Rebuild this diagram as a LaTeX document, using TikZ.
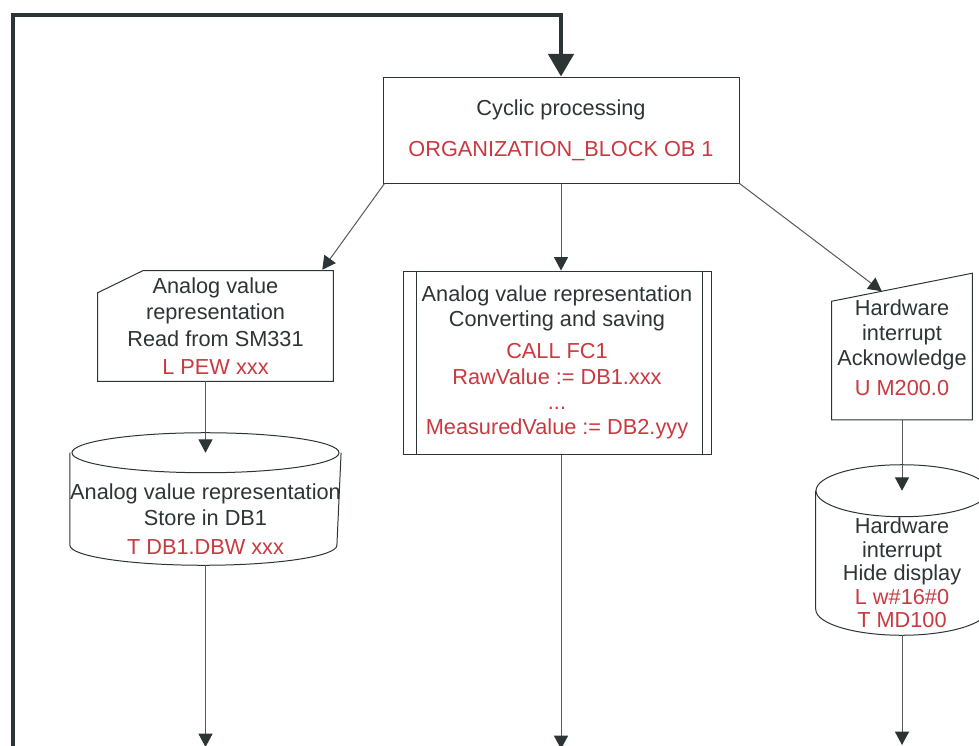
\documentclass[tikz,border=0pt]{standalone}
\usepackage{fontspec}
\setmainfont{Liberation Sans}
\usepackage{xcolor}
\usetikzlibrary{arrows.meta, positioning, calc}
\definecolor{sketchdark}{HTML}{2D3436}
\definecolor{plcred}{HTML}{C9393F}
\definecolor{wiregray}{HTML}{55595B}
\newcommand{\plc}[1]{\textcolor{plcred}{#1}}

\begin{document}
\begin{tikzpicture}[x=0.75pt, y=-0.75pt,
  block/.style={align=center, text=sketchdark, inner sep=0pt,
                font=\fontsize{16.3}{19.5}\selectfont},
  outline/.style={draw=sketchdark, line width=0.75pt},
  arr/.style={-{Triangle[length=10pt, width=10.5pt, color=sketchdark]},
              draw=wiregray, line width=0.75pt},
  loopline/.style={-{Triangle[length=17pt, width=19pt]}, draw=sketchdark,
                   line width=3pt}
]
\useasboundingbox (0,0) rectangle (979,746);

% blocks
\node[block, outline, minimum width=267pt, minimum height=79.5pt] (cyclic) at (561,130)
  {Cyclic processing\\[11pt]\plc{ORGANIZATION\_BLOCK OB 1}};

\node[block, minimum width=176.25pt, minimum height=82.5pt,
      font=\fontsize{16.3}{20}\selectfont] (read) at (215.5,326)
  {Analog value\\representation\\Read from SM331\\[1pt]\plc{L PEW xxx}};
\draw[outline] ($(read.north west)+(0,22)$) -- ($(read.north west)+(45,0)$)
  -- (read.north east) -- (read.south east) -- (read.south west) -- cycle;

\node[block, outline, minimum width=231pt, minimum height=137.25pt,
      font=\fontsize{16.3}{19}\selectfont] (convert) at (557,362.5)
  {Analog value representation\\Converting and saving\\[5pt]
   \plc{CALL FC1}\\\plc{RawValue := DB1.xxx}\\\plc{...}\\\plc{MeasuredValue := DB2.yyy}};
\draw[outline] ($(convert.north west)+(14,0)$) -- ($(convert.south west)+(14,0)$);
\draw[outline] ($(convert.north east)+(-9,0)$) -- ($(convert.south east)+(-9,0)$);

\node[block, minimum width=105pt, minimum height=107.25pt,
      font=\fontsize{16.3}{18.75}\selectfont] (ack) at (902,348)
  {Hardware\\interrupt\\Acknowledge\\[4pt]\plc{U M200.0}};
\draw[outline] ($(ack.north west)+(0,25)$) -- ($(ack.north east)+(0,-3)$)
  -- (ack.south east) -- (ack.south west) -- cycle;

% storage cylinders
\node[block, minimum width=200.25pt, minimum height=69pt] (store) at (205.5,519)
  {Analog value representation\\Store in DB1\\[2pt]\plc{T DB1.DBW xxx}};
\coordinate (storetop) at ($(store.north)+(0,-20)$);
\draw[outline] (storetop) ellipse [x radius=133.5, y radius=20];
\draw[outline] ($(store.north west)+(0,-20)$) -- ($(store.south west)+(0,-20)$)
  arc [start angle=180, end angle=0, x radius=133.5, y radius=20]
  -- ($(store.north east)+(0,-20)$);

\node[block, minimum width=129pt, minimum height=87pt,
      font=\fontsize{16.3}{17.6}\selectfont] (hide) at (902,573)
  {Hardware\\interrupt\\Hide display\\\plc{L w\#16\#0}\\\plc{T MD100}};
\coordinate (hidetop) at ($(hide.north)+(0,-24)$);
\draw[outline] (hidetop) ellipse [x radius=86, y radius=26];
\draw[outline] ($(hide.north west)+(0,-24)$) -- ($(hide.south west)+(0,-22)$)
  arc [start angle=180, end angle=0, x radius=86, y radius=26]
  -- ($(hide.north east)+(0,-24)$);

% connectors
\coordinate (loopin) at (13,760);
\coordinate (exitL) at (207,747);
\coordinate (exitM) at (561,749);
\coordinate (exitR) at (902,745);

\draw[loopline] (loopin) |- ($(cyclic.north)+(0,-62)$) -- (cyclic.north);
\draw[arr] ($(cyclic.south west)+(2,0)$) -- ($(read.north east)+(-11,-1)$);
\draw[arr] (cyclic.south) -- (cyclic.south |- convert.north);
\draw[arr] (cyclic.south east) -- ($(ack.north west)+(50,15)$);
\draw[arr] (read.south -| storetop) -- (storetop);
\draw[arr] (ack.south) -- (hidetop);
\draw[arr] (store.south) -- (store.south |- exitL);
\draw[arr] (cyclic.south |- convert.south) -- (exitM);
\draw[arr] ($(hide.south)+(0,4)$) -- (exitR);
\end{tikzpicture}
\end{document}
